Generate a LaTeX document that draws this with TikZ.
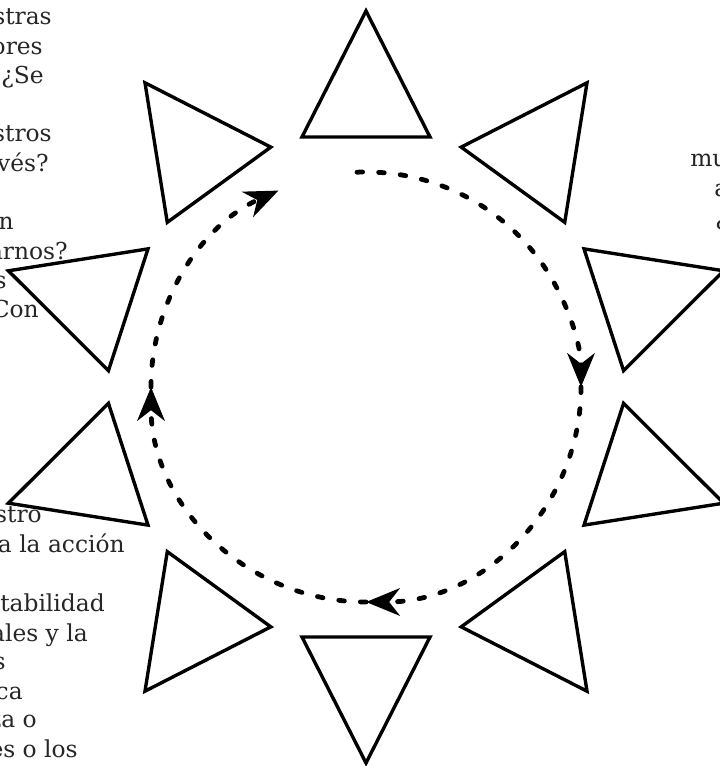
\documentclass[tikz,border=0pt]{standalone}
\usepackage{fontspec}
\setmainfont{DejaVu Serif}
\usetikzlibrary{arrows.meta}
\definecolor{ink}{HTML}{000000}
\definecolor{words}{HTML}{262626}
\newcommand{\cutfont}{\fontsize{16.6}{20.8}\selectfont}
\tikzset{
 every node/.append style={font=\cutfont,text=words,inner sep=0pt},
 petal/.style={draw=ink,fill=white,line width=2.4pt,line join=miter},
 ring/.style={draw=ink,line width=3.4pt,line cap=round,dash pattern=on 4pt off 11.4pt},
 turn/.style={ring,-{Stealth[length=24pt,width=19.5pt,inset=7.5pt]}},
 leftcut/.style={anchor=base east},
 rightcut/.style={anchor=base west},
}

\begin{document}
\begin{tikzpicture}[x=0.025cm,y=0.025cm]

\useasboundingbox (0,0) rectangle (720,766);
\clip (0,0) rectangle (720,766);
\coordinate (hub) at (366,379);
% ten petals round the cycle
\begin{scope}[shift={(hub)}]
\foreach \a in {90,54,...,-234}
 \draw[petal,rotate=\a] (376,0) -- (250,64) -- (250,-64) -- cycle;
\draw[turn] (92.4:215) arc[start angle=92.4,end angle=0,radius=215];
\draw[turn] (0:215) arc[start angle=0,end angle=-90,radius=215];
\draw[turn] (-90:215) arc[start angle=-90,end angle=-180,radius=215];
\draw[turn] (180:215) arc[start angle=180,end angle=114,radius=215];
\end{scope}
% text cut off by the left and right edges
\foreach \x/\y/\w [count=\i] in {52/741/stras,43/711/ores,44/682/¿Se,52/624/stros,49/594/vés?,14/536/n,68/506/arnos?,7/477/s,39/448/Con}
 \node[leftcut] (upper\i) at (\x,\y) {\w};
\foreach \x/\y/\w [count=\i] in {42/243/stro,125/213/a la acción,105/154/tabilidad,88/124/ales y la,6/96/s,23/66/ca,37/38/za o,78/9/es o los}
 \node[leftcut] (lower\i) at (\x,\y) {\w};
\foreach \x/\y/\w [count=\i] in {690/599/mu,714/569/a,715/540/¿}
 \node[rightcut] (right\i) at (\x,\y) {\w};

\end{tikzpicture}
\end{document}
